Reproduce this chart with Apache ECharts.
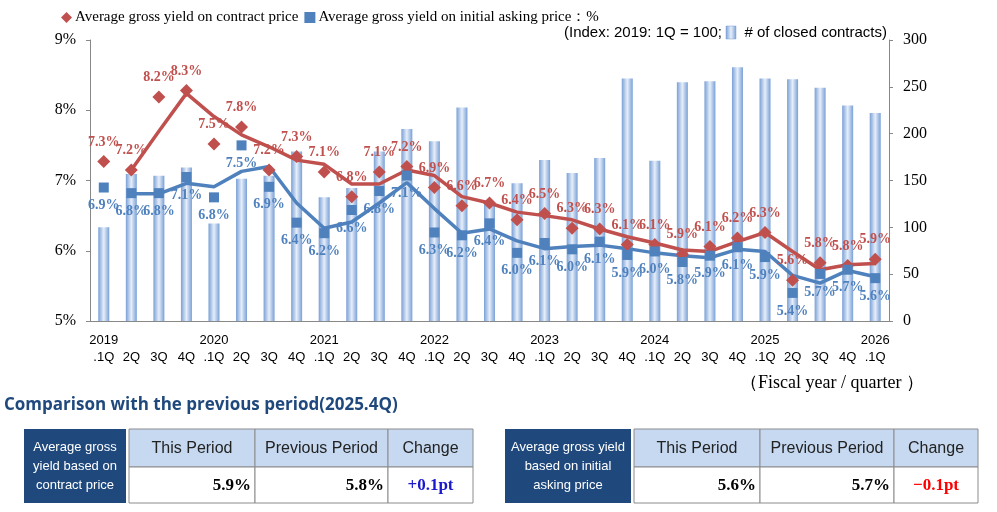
<!DOCTYPE html>
<html>
<head>
<meta charset="utf-8">
<script src="https://cdn.jsdelivr.net/npm/echarts@6/dist/echarts.min.js"></script>
<style>
  html, body { margin: 0; padding: 0; background: #fff; }
  #main { width: 997px; height: 512px; }
</style>
</head>
<body>
<div id="main"></div>
<script>
var chart = echarts.init(document.getElementById('main'));

// quarters, fiscal year shown only on the .1Q tick
var quarters = ['2019\n.1Q', '\n2Q', '\n3Q', '\n4Q',
  '2020\n.1Q', '\n2Q', '\n3Q', '\n4Q',
  '2021\n.1Q', '\n2Q', '\n3Q', '\n4Q',
  '2022\n.1Q', '\n2Q', '\n3Q', '\n4Q',
  '2023\n.1Q', '\n2Q', '\n3Q', '\n4Q',
  '2024\n.1Q', '\n2Q', '\n3Q', '\n4Q',
  '2025\n.1Q', '\n2Q', '\n3Q', '\n4Q',
  '2026\n.1Q'];

// # of closed contracts (index, 2019.1Q = 100)
var contracts = [100, 157, 155, 164, 104, 152, 155, 181, 132, 142, 181, 205,
  192, 228, 125, 147, 172, 158, 174, 259, 171, 255, 256, 271, 259, 258, 249, 230, 222];

// average gross yield on contract price (%)
var yieldContract = [7.27, 7.15, 8.19, 8.28, 7.52, 7.76, 7.15, 7.34, 7.12, 6.77, 7.12, 7.2,
  6.9, 6.64, 6.68, 6.44, 6.53, 6.32, 6.31, 6.09, 6.09, 5.95, 6.06, 6.18, 6.26, 5.58, 5.83, 5.79, 5.88];
var labelContract = ['7.3', '7.2', '8.2', '8.3', '7.5', '7.8', '7.2', '7.3', '7.1', '6.8', '7.1', '7.2',
  '6.9', '6.6', '6.7', '6.4', '6.5', '6.3', '6.3', '6.1', '6.1', '5.9', '6.1', '6.2', '6.3', '5.6', '5.8', '5.8', '5.9'];

// average gross yield on initial asking price (%)
var yieldAsking = [6.9, 6.82, 6.82, 7.05, 6.76, 7.5, 6.91, 6.4, 6.25, 6.58, 6.85, 7.07,
  6.26, 6.22, 6.39, 5.97, 6.11, 6.02, 6.13, 5.94, 5.99, 5.84, 5.93, 6.05, 5.91, 5.4, 5.67, 5.73, 5.61];
var labelAsking = ['6.9', '6.8', '6.8', '7.1', '6.8', '7.5', '6.9', '6.4', '6.2', '6.6', '6.8', '7.1',
  '6.3', '6.2', '6.4', '6.0', '6.1', '6.0', '6.1', '5.9', '6.0', '5.8', '5.9', '6.1', '5.9', '5.4', '5.7', '5.7', '5.6'];

// trend lines (start at 2019.2Q)
var trendContract = ['-', 7.15, 7.7, 8.24, 7.91, 7.65, 7.48, 7.29, 7.23, 6.95, 6.95, 7.15,
  7.07, 6.77, 6.68, 6.55, 6.5, 6.44, 6.31, 6.2, 6.11, 6.01, 5.99, 6.13, 6.26, 5.99, 5.73, 5.8, 5.82];
var trendAsking = ['-', 6.81, 6.81, 6.96, 6.91, 7.13, 7.2, 6.68, 6.32, 6.41, 6.68, 6.97,
  6.6, 6.25, 6.31, 6.14, 6.03, 6.06, 6.08, 6.03, 5.97, 5.93, 5.9, 6.02, 5.99, 5.65, 5.54, 5.72, 5.63];

// comparison tables
var tableHeaders = ['This Period', 'Previous Period', 'Change'];
var tableContract = ['5.9%', '5.8%', '+0.1pt'];
var tableAsking = ['5.6%', '5.7%', '\u22120.1pt'];

var red = '#c0504d';
var blue = '#4f81bd';
var navy = '#1f497d';
var serif = '"Liberation Serif", "DejaVu Serif", serif';
var sans = '"Liberation Sans", Arial, sans-serif';

var barGradient = new echarts.graphic.LinearGradient(0, 0, 1, 0, [
  { offset: 0, color: '#79a0d6' },
  { offset: 0.5, color: '#e6eefa' },
  { offset: 1, color: '#79a0d6' }
]);

function pointData(values, labels) {
  return values.map(function (v, i) {
    return { value: v, labelText: labels[i] };
  });
}

// builds one comparison table with graphic elements
function makeTable(x0, titleLines, values, changeColor, cols) {
  var top = 429, mid = 467, bottom = 503;
  var els = [];
  els.push({
    type: 'rect', shape: { x: x0, y: top, width: cols[0] - x0, height: bottom - top },
    style: { fill: navy }
  });
  els.push({
    type: 'text', x: (x0 + cols[0]) / 2, y: (top + bottom) / 2,
    style: {
      text: titleLines, fill: '#fff', font: '13px ' + sans, align: 'center',
      verticalAlign: 'middle', lineHeight: 19
    }
  });
  var start = cols[0] + 3;
  var edges = [start, cols[1], cols[2], cols[3]];
  for (var c = 0; c < 3; c++) {
    els.push({
      type: 'rect', shape: { x: edges[c], y: top, width: edges[c + 1] - edges[c], height: mid - top },
      style: { fill: '#c6d9f1', stroke: '#8c8c8c', lineWidth: 1 }
    });
    els.push({
      type: 'rect', shape: { x: edges[c], y: mid, width: edges[c + 1] - edges[c], height: bottom - mid },
      style: { fill: '#fff', stroke: '#8c8c8c', lineWidth: 1 }
    });
    els.push({
      type: 'text', x: (edges[c] + edges[c + 1]) / 2, y: (top + mid) / 2 + 1,
      style: {
        text: tableHeaders[c], fill: '#222', font: '16px ' + sans,
        align: 'center', verticalAlign: 'middle'
      }
    });
    var isChange = c === 2;
    els.push({
      type: 'text',
      x: isChange ? (edges[c] + edges[c + 1]) / 2 : edges[c + 1] - 4,
      y: (mid + bottom) / 2 + 1,
      style: {
        text: values[c], fill: isChange ? changeColor : '#000',
        font: 'bold 17px ' + serif, align: isChange ? 'center' : 'right', verticalAlign: 'middle'
      }
    });
  }
  return els;
}

var graphics = [
  {
    type: 'text', right: 110, top: 25,
    style: { text: '# of closed contracts)', font: '15px ' + sans, fill: '#000' }
  },
  {
    type: 'rect', shape: { x: 726, y: 26, width: 10, height: 13 },
    style: { fill: barGradient, stroke: '#7ea3d6', lineWidth: 0.5 }
  },
  {
    type: 'text', x: 722, y: 25,
    style: { text: '(Index: 2019: 1Q = 100;', font: '15px ' + sans, fill: '#000', align: 'right' }
  },
  {
    type: 'text', x: 740, y: 383,
    style: {
      text: '\uff08Fiscal year / quarter \uff09', font: '18px ' + serif, fill: '#000',
      verticalAlign: 'middle'
    }
  },
  {
    type: 'text', x: 4, y: 405,
    style: {
      text: 'Comparison with the previous period(2025.4Q)', font: 'bold 17px "Open Sans", sans-serif',
      fill: navy, verticalAlign: 'middle'
    }
  }
].concat(
  makeTable(24, 'Average gross\nyield based on\ncontract price', tableContract, '#1a1acc', [126, 255, 388, 473]),
  makeTable(505, 'Average gross yield\nbased on initial\nasking price', tableAsking, '#ff0000', [631, 760, 894, 978])
);

var option = {
  backgroundColor: '#fff',
  animation: false,
  legend: {
    left: 56,
    top: 5,
    itemGap: 6,
    itemWidth: 11,
    itemHeight: 11,
    textStyle: { fontFamily: serif, fontSize: 15, color: '#000', padding: [0, 0, 0, -2] },
    data: [
      { name: 'Average gross yield on contract price', icon: 'diamond' },
      { name: 'Average gross yield on initial asking price\uff1a%', icon: 'rect' }
    ]
  },
  grid: { left: 90, right: 108, top: 40, bottom: 191 },
  xAxis: {
    type: 'category',
    data: quarters,
    axisLine: { lineStyle: { color: '#888' } },
    axisTick: { alignWithLabel: false, length: 5, lineStyle: { color: '#888' } },
    axisLabel: {
      interval: 0, color: '#000', fontFamily: sans, fontSize: 13,
      lineHeight: 17, margin: 11
    }
  },
  yAxis: [
    {
      type: 'value', min: 5, max: 9, interval: 1,
      axisLine: { show: true, lineStyle: { color: '#888' } },
      axisTick: { show: true, length: 4, lineStyle: { color: '#888' } },
      splitLine: { show: false },
      axisLabel: { formatter: '{value}%', color: '#000', fontFamily: serif, fontSize: 16, margin: 14 }
    },
    {
      type: 'value', min: 0, max: 300, interval: 50,
      axisLine: { show: true, lineStyle: { color: '#888' } },
      axisTick: { show: true, length: 4, lineStyle: { color: '#888' } },
      splitLine: { show: false },
      axisLabel: { color: '#000', fontFamily: serif, fontSize: 16, margin: 14 }
    }
  ],
  series: [
    {
      name: '# of closed contracts',
      type: 'bar',
      yAxisIndex: 1,
      barWidth: 11,
      data: contracts,
      itemStyle: { color: barGradient },
      z: 1
    },
    {
      name: 'trend contract',
      type: 'line',
      data: trendContract,
      showSymbol: false,
      lineStyle: { color: red, width: 3.5 },
      z: 3
    },
    {
      name: 'trend asking',
      type: 'line',
      data: trendAsking,
      showSymbol: false,
      lineStyle: { color: blue, width: 3.5 },
      z: 3
    },
    {
      name: 'Average gross yield on contract price',
      type: 'scatter',
      symbol: 'diamond',
      symbolSize: 13,
      data: pointData(yieldContract, labelContract),
      itemStyle: { color: red, opacity: 1 },
      label: {
        show: true, position: 'top', distance: 6,
        formatter: function (p) { return p.data.labelText + '%'; },
        color: red, fontFamily: serif, fontWeight: 'bold', fontSize: 14
      },
      z: 4
    },
    {
      name: 'Average gross yield on initial asking price\uff1a%',
      type: 'scatter',
      symbol: 'rect',
      symbolSize: 10,
      data: pointData(yieldAsking, labelAsking),
      itemStyle: { color: blue, opacity: 1 },
      label: {
        show: true, position: 'bottom', distance: 6,
        formatter: function (p) { return p.data.labelText + '%'; },
        color: blue, fontFamily: serif, fontWeight: 'bold', fontSize: 14
      },
      z: 4
    }
  ],
  graphic: graphics
};

chart.setOption(option);
</script>
</body>
</html>
